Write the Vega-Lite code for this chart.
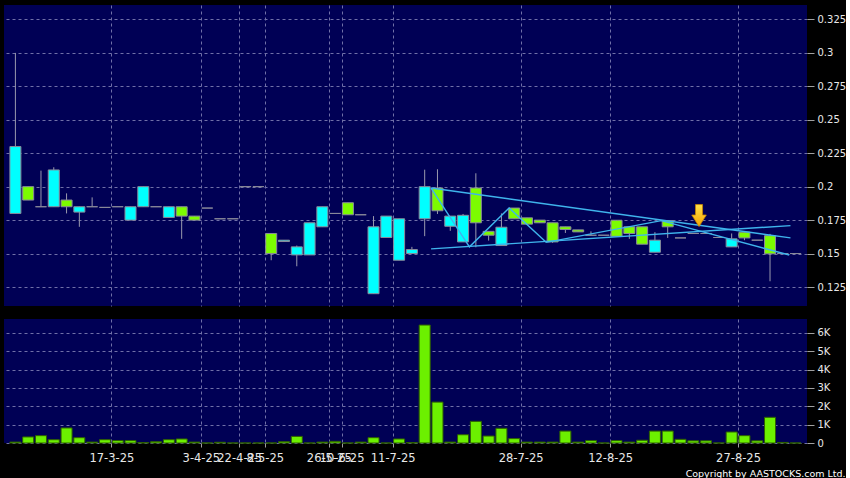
{
  "$schema": "https://vega.github.io/schema/vega-lite/v6.json",
  "background": "#000000",
  "padding": {"left": 4, "top": 5, "right": 0, "bottom": 0},
  "spacing": 13,
  "config": {
    "view": {"fill": "#000055", "stroke": null},
    "font": "DejaVu Sans",
    "axis": {
      "labelColor": "#E8E8E8",
      "labelFont": "DejaVu Sans",
      "labelFontSize": 10,
      "tickColor": "#A0A0A0",
      "domain": false,
      "gridColor": "#7070A8",
      "gridDash": [3, 3],
      "gridWidth": 1,
      "labelOverlap": false,
      "title": null
    }
  },
  "title": {
    "text": "Copyright by AASTOCKS.com Ltd.",
    "orient": "bottom",
    "anchor": "end",
    "frame": "bounds",
    "color": "#FFFFFF",
    "fontSize": 9.5,
    "fontWeight": "normal",
    "font": "DejaVu Sans",
    "offset": 5
  },
  "datasets": {
    "candles": [
      {"i": 0, "o": 0.18, "h": 0.30, "l": 0.18, "c": 0.23, "v": 50},
      {"i": 1, "o": 0.20, "h": 0.20, "l": 0.19, "c": 0.19, "v": 330},
      {"i": 2, "o": 0.185, "h": 0.212, "l": 0.185, "c": 0.185, "v": 400},
      {"i": 3, "o": 0.185, "h": 0.2145, "l": 0.185, "c": 0.2125, "v": 180},
      {"i": 4, "o": 0.19, "h": 0.195, "l": 0.18, "c": 0.185, "v": 820},
      {"i": 5, "o": 0.181, "h": 0.185, "l": 0.17, "c": 0.185, "v": 290},
      {"i": 6, "o": 0.185, "h": 0.192, "l": 0.185, "c": 0.185, "v": 50},
      {"i": 7, "o": 0.1845, "h": 0.1845, "l": 0.1845, "c": 0.1845, "v": 180},
      {"i": 8, "o": 0.185, "h": 0.185, "l": 0.185, "c": 0.185, "v": 130},
      {"i": 9, "o": 0.175, "h": 0.185, "l": 0.175, "c": 0.185, "v": 130},
      {"i": 10, "o": 0.185, "h": 0.20, "l": 0.185, "c": 0.20, "v": 20},
      {"i": 11, "o": 0.185, "h": 0.185, "l": 0.185, "c": 0.185, "v": 70},
      {"i": 12, "o": 0.177, "h": 0.185, "l": 0.177, "c": 0.185, "v": 180},
      {"i": 13, "o": 0.185, "h": 0.185, "l": 0.161, "c": 0.178, "v": 220},
      {"i": 14, "o": 0.178, "h": 0.178, "l": 0.175, "c": 0.175, "v": 50},
      {"i": 15, "o": 0.184, "h": 0.184, "l": 0.184, "c": 0.184, "v": 0},
      {"i": 16, "o": 0.176, "h": 0.176, "l": 0.176, "c": 0.176, "v": 40},
      {"i": 17, "o": 0.176, "h": 0.176, "l": 0.176, "c": 0.176, "v": 0},
      {"i": 18, "o": 0.20, "h": 0.20, "l": 0.20, "c": 0.20, "v": 0},
      {"i": 19, "o": 0.20, "h": 0.20, "l": 0.20, "c": 0.20, "v": 0},
      {"i": 20, "o": 0.165, "h": 0.165, "l": 0.145, "c": 0.15, "v": 0},
      {"i": 21, "o": 0.159, "h": 0.16, "l": 0.159, "c": 0.16, "v": 70},
      {"i": 22, "o": 0.149, "h": 0.156, "l": 0.1405, "c": 0.155, "v": 360},
      {"i": 23, "o": 0.149, "h": 0.173, "l": 0.149, "c": 0.173, "v": 0},
      {"i": 24, "o": 0.17, "h": 0.185, "l": 0.17, "c": 0.185, "v": 50},
      {"i": 25, "o": 0.18, "h": 0.18, "l": 0.18, "c": 0.18, "v": 90},
      {"i": 26, "o": 0.188, "h": 0.188, "l": 0.179, "c": 0.179, "v": 0},
      {"i": 27, "o": 0.179, "h": 0.179, "l": 0.179, "c": 0.179, "v": 50},
      {"i": 28, "o": 0.12, "h": 0.178, "l": 0.12, "c": 0.17, "v": 290},
      {"i": 29, "o": 0.162, "h": 0.178, "l": 0.162, "c": 0.178, "v": 0},
      {"i": 30, "o": 0.145, "h": 0.176, "l": 0.145, "c": 0.176, "v": 220},
      {"i": 31, "o": 0.15, "h": 0.155, "l": 0.15, "c": 0.153, "v": 20},
      {"i": 32, "o": 0.176, "h": 0.2127, "l": 0.163, "c": 0.20, "v": 6430},
      {"i": 33, "o": 0.199, "h": 0.213, "l": 0.1796, "c": 0.182, "v": 2230},
      {"i": 34, "o": 0.1704, "h": 0.178, "l": 0.167, "c": 0.178, "v": 50},
      {"i": 35, "o": 0.1587, "h": 0.1796, "l": 0.1587, "c": 0.1786, "v": 450},
      {"i": 36, "o": 0.199, "h": 0.21, "l": 0.1547, "c": 0.173, "v": 1180},
      {"i": 37, "o": 0.1666, "h": 0.1666, "l": 0.1597, "c": 0.1637, "v": 380},
      {"i": 38, "o": 0.156, "h": 0.18, "l": 0.156, "c": 0.1697, "v": 800},
      {"i": 39, "o": 0.184, "h": 0.184, "l": 0.176, "c": 0.176, "v": 240},
      {"i": 40, "o": 0.1767, "h": 0.1767, "l": 0.172, "c": 0.172, "v": 50},
      {"i": 41, "o": 0.175, "h": 0.175, "l": 0.173, "c": 0.173, "v": 50},
      {"i": 42, "o": 0.173, "h": 0.173, "l": 0.158, "c": 0.1587, "v": 50},
      {"i": 43, "o": 0.17, "h": 0.17, "l": 0.1654, "c": 0.168, "v": 650},
      {"i": 44, "o": 0.1677, "h": 0.1677, "l": 0.1662, "c": 0.1662, "v": 50},
      {"i": 45, "o": 0.1637, "h": 0.1666, "l": 0.1637, "c": 0.1637, "v": 130},
      {"i": 46, "o": 0.1637, "h": 0.1637, "l": 0.1637, "c": 0.1637, "v": 0},
      {"i": 47, "o": 0.1749, "h": 0.1749, "l": 0.1629, "c": 0.1629, "v": 130},
      {"i": 48, "o": 0.17, "h": 0.17, "l": 0.161, "c": 0.165, "v": 50},
      {"i": 49, "o": 0.17, "h": 0.17, "l": 0.157, "c": 0.157, "v": 150},
      {"i": 50, "o": 0.151, "h": 0.166, "l": 0.151, "c": 0.16, "v": 650},
      {"i": 51, "o": 0.1746, "h": 0.1746, "l": 0.1617, "c": 0.17, "v": 650},
      {"i": 52, "o": 0.1617, "h": 0.1617, "l": 0.1617, "c": 0.1617, "v": 200},
      {"i": 53, "o": 0.165, "h": 0.165, "l": 0.165, "c": 0.165, "v": 120},
      {"i": 54, "o": 0.165, "h": 0.165, "l": 0.165, "c": 0.165, "v": 120},
      {"i": 55, "o": 0.162, "h": 0.162, "l": 0.162, "c": 0.162, "v": 0},
      {"i": 56, "o": 0.155, "h": 0.165, "l": 0.155, "c": 0.161, "v": 600},
      {"i": 57, "o": 0.166, "h": 0.166, "l": 0.16, "c": 0.1617, "v": 400},
      {"i": 58, "o": 0.16, "h": 0.16, "l": 0.16, "c": 0.16, "v": 120},
      {"i": 59, "o": 0.1634, "h": 0.1647, "l": 0.1293, "c": 0.1498, "v": 1400},
      {"i": 60, "o": 0.15, "h": 0.15, "l": 0.15, "c": 0.15, "v": 30},
      {"i": 61, "o": 0.15, "h": 0.15, "l": 0.15, "c": 0.15, "v": 0}
    ],
    "lines": [
      {"id": "a", "i": 32.5, "p": 0.199},
      {"id": "a", "i": 60.6, "p": 0.1617},
      {"id": "b", "i": 32.5, "p": 0.1535},
      {"id": "b", "i": 60.6, "p": 0.1709},
      {"id": "z", "i": 32.5, "p": 0.199},
      {"id": "z", "i": 35.5, "p": 0.155},
      {"id": "z", "i": 38.6, "p": 0.184},
      {"id": "z", "i": 41.5, "p": 0.1584},
      {"id": "z", "i": 50.5, "p": 0.1746},
      {"id": "z", "i": 60.5, "p": 0.1489}
    ],
    "arrow": [{"i": 53.45, "p": 0.1784}]
  },
  "vconcat": [
    {
      "width": 803,
      "height": 301,
      "encoding": {
        "x": {
          "field": "i",
          "type": "quantitative",
          "scale": {"domain": [-0.5, 61.5], "nice": false, "zero": false},
          "axis": {
            "values": [7.5, 14.5, 17.5, 19.5, 24.5, 25.5, 29.5, 39.5, 46.5, 56.5],
            "labels": false,
            "ticks": false,
            "grid": true,
            "orient": "bottom"
          }
        },
        "y": {
          "field": "l",
          "type": "quantitative",
          "scale": {"domain": [0.1108, 0.3358], "nice": false, "zero": false},
          "axis": {
            "orient": "right",
            "values": [0.125, 0.15, 0.175, 0.2, 0.225, 0.25, 0.275, 0.3, 0.325],
            "labelExpr": "format(datum.value, '.3~f')",
            "labelOverlap": false,
            "labelBound": false,
            "grid": true,
            "tickSize": 7,
            "labelPadding": 3
          }
        }
      },
      "layer": [
        {
          "data": {"name": "candles"},
          "mark": {"type": "rule", "color": "#9A9AAE", "strokeWidth": 1},
          "encoding": {
            "y2": {"field": "h"}
          }
        },
        {
          "data": {"name": "candles"},
          "mark": {"type": "bar", "size": 11, "orient": "vertical", "stroke": "#8A8A9A", "strokeWidth": 1},
          "encoding": {
            "y": {"field": "o", "type": "quantitative"},
            "y2": {"field": "c"},
            "fill": {
              "condition": [
                {"test": "datum.c > datum.o", "value": "#00FFFF"},
                {"test": "datum.c < datum.o", "value": "#7CFC00"}
              ],
              "value": "#A0A0A8"
            }
          }
        },
        {
          "data": {"name": "lines"},
          "mark": {"type": "line", "color": "#3FB4EC", "strokeWidth": 1.4},
          "encoding": {
            "y": {"field": "p", "type": "quantitative"},
            "detail": {"field": "id"},
            "order": {"field": "i", "type": "quantitative"}
          }
        },
        {
          "data": {"name": "arrow"},
          "mark": {
            "type": "point",
            "shape": "M-0.32,-1L0.32,-1L0.32,-0.05L0.66,-0.05L0,1L-0.66,-0.05L-0.32,-0.05Z",
            "size": 484,
            "filled": true,
            "opacity": 1,
            "fill": {
              "gradient": "linear",
              "x1": 0, "y1": 0, "x2": 0, "y2": 1,
              "stops": [
                {"offset": 0, "color": "#FFE24A"},
                {"offset": 1, "color": "#F5A300"}
              ]
            },
            "stroke": "#C88400",
            "strokeWidth": 0.8
          },
          "encoding": {
            "y": {"field": "p", "type": "quantitative"}
          }
        }
      ]
    },
    {
      "width": 803,
      "height": 124,
      "data": {"name": "candles"},
      "mark": {"type": "bar", "size": 11, "orient": "vertical", "fill": "#6CF000", "stroke": "#2F6000", "strokeWidth": 1},
      "encoding": {
        "x": {
          "field": "i",
          "type": "quantitative",
          "scale": {"domain": [-0.5, 61.5], "nice": false, "zero": false},
          "axis": {
            "values": [7.5, 14.5, 17.5, 19.5, 24.5, 25.5, 29.5, 39.5, 46.5, 56.5],
            "labelExpr": "datum.value == 7.5 ? '17-3-25' : datum.value == 14.5 ? '3-4-25' : datum.value == 17.5 ? '22-4-25' : datum.value == 19.5 ? '8-5-25' : datum.value == 24.5 ? '26-5-25' : datum.value == 25.5 ? '10-6-25' : datum.value == 29.5 ? '11-7-25' : datum.value == 39.5 ? '28-7-25' : datum.value == 46.5 ? '12-8-25' : '27-8-25'",
            "labelFontSize": 11.5,
            "grid": true,
            "tickSize": 4,
            "labelPadding": 5,
            "orient": "bottom"
          }
        },
        "y": {
          "field": "v",
          "type": "quantitative",
          "scale": {"domain": [0, 6760], "nice": false},
          "axis": {
            "orient": "right",
            "values": [0, 1000, 2000, 3000, 4000, 5000, 6000],
            "labelExpr": "datum.value == 0 ? '0' : (datum.value / 1000) + 'K'",
            "grid": true,
            "tickSize": 7,
            "labelPadding": 3
          }
        }
      }
    }
  ]
}
